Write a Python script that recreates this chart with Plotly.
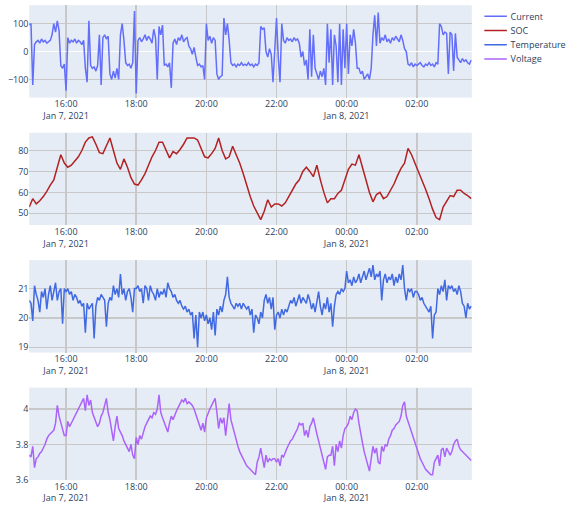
import pandas as pd
import plotly.graph_objects as go
from plotly.subplots import make_subplots

start = "2021-01-07 14:57"

current = [95,
    100, -120, 25, 35, 40, 30, 45, 35, 40, 30, 35, 40, 60, 100, 70, 110, 75, -50, -60, -45,
    -140, 50, 30, 40, 35, 45, 30, 40, 35, 25, 40, -60, -110, 110, -50, -60, -55, -70, -50, 60,
    -120, 50, 60, 45, 55, -80, -100, -70, -95, -60, -100, 60, 100, 40, -40, -50, -45, -60, -40, 145,
    -150, 40, 50, 35, 45, 60, 40, 55, 45, 30, 80, 50, -100, 90, 60, 95, -50, -45, -55, -40,
    -130, 30, 45, 25, 50, 40, 60, 35, 45, 50, 20, 10, -10, 15, -20, -50, -45, -55, -50, -100,
    100, 40, 55, 30, 50, 40, -80, -100, -90, -85, 120, 60, 100, 40, -40, -50, -45, -55, -45, -50,
    -40, -50, -45, -50, -40, -50, -45, -55, -45, -50, -40, 90, 80, 85, 0, -20, 10, -10, -110, 20,
    120, -20, -110, 100, 40, 30, 50, 40, 45, 35, 50, 40, 45, 30, -20, 0, -50, -30, -100, 80,
    -90, 60, -60, -80, -100, -70, -90, -60, -120, 100, -40, 80, -120, 60, 20, -110, 100, -120, 80, -60,
    100, -80, 60, 20, 80, 30, -60, -60, -80, -70, -100, -90, -80, -100, -60, 60, 130, 20, 140, 30,
    50, 40, 60, 35, 45, 30, 50, 40, 55, 45, 35, 60, 40, 10, 0, -45, -50, -40, -55, -45,
    -50, -45, -40, -50, -55, -45, -50, -40, -50, -45, -55, -40, -45, 100, 90, 60, 70, 65, -80, 70,
    60, -70, 65, -20, -30, -40, -25, -35, -30, -40, -45, -30]

soc = [53, 57, 54.5, 56, 58, 60.5, 63.5, 66, 72, 78, 74, 72, 73, 75, 77, 80, 84, 86, 86.5, 83,
    79, 78.5, 82, 86, 80, 74, 71, 76, 72, 67, 64, 63.5, 66, 69, 73, 77, 80, 84, 84, 80,
    76.5, 79.5, 78.5, 80.5, 83, 86, 86, 86, 85, 81, 77, 76.5, 78.5, 81, 86, 80, 76, 77, 82, 78,
    74, 69, 63.5, 58, 53.5, 50, 47, 51, 56.5, 53, 54.5, 54.5, 53.5, 55, 58, 61, 64, 66, 70, 72,
    70, 67.5, 73, 66, 60, 55, 57, 57, 59.5, 61, 66, 71, 73.5, 73, 78, 72, 66, 60, 55.5, 59,
    60, 57, 58, 61, 64, 68, 71.5, 74, 81, 78, 74, 70, 66, 61.5, 57, 52, 48, 47, 53, 56,
    58.5, 58, 61, 61, 59.5, 58.5, 57]

temperature = [20.6,
    20.5, 19.9, 21.1, 20.8, 20.6, 20.2, 20.9, 20.7, 21.0, 20.3, 20.8, 21.1, 20.6, 20.9, 21.2, 20.6, 20.9, 21.0, 19.8, 21.0,
    20.9, 21.0, 20.8, 20.9, 20.6, 20.8, 20.7, 20.5, 20.6, 20.4, 20.5, 19.5, 20.5, 20.3, 20.4, 20.5, 19.3, 20.4, 20.7, 20.6,
    20.8, 20.7, 20.6, 19.7, 20.5, 20.7, 20.6, 21.1, 20.8, 21.0, 20.7, 21.5, 20.8, 21.0, 20.6, 20.9, 21.0, 20.7, 20.2, 21.0,
    21.0, 21.1, 20.9, 21.0, 20.5, 21.1, 21.0, 20.6, 21.1, 20.9, 20.8, 20.6, 21.0, 20.7, 20.9, 20.8, 21.0, 20.7, 21.2, 21.0,
    20.9, 20.7, 20.8, 20.6, 20.5, 20.6, 20.4, 20.3, 20.4, 20.2, 20.3, 20.1, 20.2, 19.3, 20.1, 19.0, 20.2, 20.0, 20.2, 19.9,
    20.1, 19.8, 20.0, 19.6, 20.2, 19.4, 20.3, 20.1, 20.4, 20.2, 20.6, 20.8, 21.4, 20.7, 20.5, 20.4, 20.3, 20.5, 20.4, 20.5,
    20.3, 20.5, 20.4, 20.3, 20.4, 20.1, 20.3, 19.5, 20.1, 20.0, 19.8, 20.2, 20.0, 20.6, 20.8, 20.5, 20.7, 20.3, 20.7, 19.6,
    20.1, 20.2, 20.0, 20.3, 20.1, 20.3, 20.2, 20.4, 20.6, 20.5, 20.7, 20.4, 20.6, 20.8, 20.5, 20.7, 20.6, 20.5, 20.8, 20.6,
    20.3, 20.5, 20.2, 20.6, 20.9, 20.4, 20.1, 20.5, 20.3, 20.7, 20.2, 20.5, 19.7, 20.4, 20.8, 20.9, 20.8, 21.0, 20.9, 21.0,
    21.6, 21.2, 21.3, 21.1, 21.4, 21.2, 21.3, 21.5, 21.2, 21.4, 21.6, 21.3, 21.5, 21.7, 21.4, 21.8, 21.3, 21.5, 21.4, 21.6,
    20.6, 21.3, 21.5, 21.2, 21.4, 21.3, 21.5, 21.1, 21.4, 21.2, 21.5, 21.3, 21.8, 21.0, 20.6, 21.0, 20.9, 21.0, 20.7, 20.9,
    20.9, 20.8, 20.6, 20.7, 20.5, 20.4, 20.3, 20.2, 20.4, 19.3, 20.1, 20.2, 21.0, 20.8, 21.1, 20.9, 21.3, 20.6, 21.1, 21.0,
    21.1, 20.9, 21.0, 20.8, 21.1, 20.9, 20.5, 20.4, 20.0, 20.5, 20.3, 20.4]

voltage = [3.74,
    3.73, 3.79, 3.67, 3.72, 3.73, 3.75, 3.76, 3.78, 3.80, 3.83, 3.85, 3.86, 3.87, 3.88, 3.92, 4.02, 3.96, 3.92, 3.88, 3.85,
    3.85, 3.93, 3.90, 3.92, 3.94, 3.96, 3.98, 4.00, 4.02, 4.04, 4.06, 3.99, 4.08, 4.02, 4.05, 3.98, 3.95, 3.93, 3.90, 3.92,
    3.96, 3.98, 4.02, 4.06, 3.98, 3.94, 3.88, 3.82, 3.90, 3.96, 3.89, 3.87, 3.85, 3.82, 3.80, 3.78, 3.76, 3.80, 3.74, 3.72,
    3.84, 3.80, 3.85, 3.83, 3.87, 3.90, 3.92, 3.94, 3.96, 3.95, 3.98, 3.97, 4.00, 4.08, 3.98, 3.95, 3.92, 3.90, 3.87, 3.92,
    3.96, 3.94, 3.97, 3.99, 4.01, 4.03, 4.05, 4.04, 4.06, 4.03, 4.04, 4.03, 4.02, 4.00, 3.97, 3.94, 3.91, 3.88, 3.92, 3.87,
    3.95, 3.98, 4.00, 4.02, 4.04, 4.06, 3.98, 3.89, 3.95, 3.92, 3.95, 3.85, 3.94, 4.03, 3.94, 3.90, 3.86, 3.82, 3.79, 3.76,
    3.74, 3.72, 3.70, 3.68, 3.67, 3.66, 3.65, 3.64, 3.63, 3.70, 3.73, 3.78, 3.72, 3.67, 3.74, 3.70, 3.72, 3.71, 3.72, 3.72,
    3.70, 3.72, 3.68, 3.74, 3.73, 3.76, 3.78, 3.80, 3.82, 3.83, 3.85, 3.87, 3.89, 3.92, 3.91, 3.92, 3.85, 3.88, 3.84, 3.90,
    3.92, 3.95, 3.90, 3.86, 3.82, 3.78, 3.74, 3.70, 3.66, 3.73, 3.74, 3.74, 3.79, 3.68, 3.80, 3.76, 3.82, 3.78, 3.85, 3.89,
    3.90, 3.92, 3.96, 3.94, 3.98, 4.00, 3.99, 3.92, 3.86, 3.81, 3.76, 3.72, 3.68, 3.65, 3.72, 3.79, 3.75, 3.78, 3.70, 3.69,
    3.79, 3.76, 3.80, 3.79, 3.83, 3.85, 3.88, 3.89, 3.91, 3.92, 3.93, 3.96, 4.02, 4.04, 3.96, 3.93, 3.90, 3.87, 3.84, 3.81,
    3.78, 3.75, 3.72, 3.70, 3.68, 3.66, 3.65, 3.64, 3.63, 3.63, 3.70, 3.72, 3.74, 3.68, 3.77, 3.78, 3.73, 3.78, 3.76, 3.74,
    3.76, 3.80, 3.82, 3.83, 3.79, 3.77, 3.76, 3.75, 3.74, 3.73, 3.72, 3.71]

t3 = pd.date_range(start, periods=len(current), freq="3min")
t6 = pd.date_range(start, periods=len(soc), freq="6min")

series = [
    ("Current", t3, current, "#636efa"),
    ("SOC", t6, soc, "#b22222"),
    ("Temperature", t3[:len(temperature)], temperature, "#4169e1"),
    ("Voltage", t3[:len(voltage)], voltage, "#ab63fa"),
]

# figure is laid out at 4/3 size and displayed scaled by 0.75 to fit 568x510
fig = make_subplots(rows=4, cols=1, vertical_spacing=0.074)
for i, (name, t, v, c) in enumerate(series, start=1):
    fig.add_trace(go.Scatter(x=t, y=v, mode="lines", name=name,
                             line=dict(color=c, width=2)), row=i, col=1)

yranges = [[-165, 166], [44.4, 88.5], [18.82, 21.97], [3.6, 4.12]]
ydticks = [100, 10, 1, 0.2]
for i in range(4):
    fig.update_yaxes(range=yranges[i], dtick=ydticks[i], gridcolor="#c8c8c8",
                     gridwidth=2, zerolinecolor="white", zerolinewidth=2,
                     automargin=False, row=i + 1, col=1)
    fig.update_xaxes(range=["2021-01-07 14:57", "2021-01-08 03:34"],
                     dtick=2 * 3600 * 1000, tick0="2021-01-07 00:00",
                     gridcolor="#c8c8c8", gridwidth=2, automargin=False,
                     row=i + 1, col=1)

fig.update_layout(
    width=757, height=680,
    margin=dict(l=39, r=128, t=7, b=40, autoexpand=False),
    font=dict(family="Open Sans", size=12),
)

post = ("document.documentElement.style.overflow='hidden';"
        "document.body.style.margin='0';document.body.style.overflow='hidden';"
        "var d=document.getElementById('{plot_id}');"
        "d.style.transformOrigin='0 0';d.style.transform='scale(0.75)';")
fig.write_html("out.html", post_script=post, config={"displayModeBar": False})
